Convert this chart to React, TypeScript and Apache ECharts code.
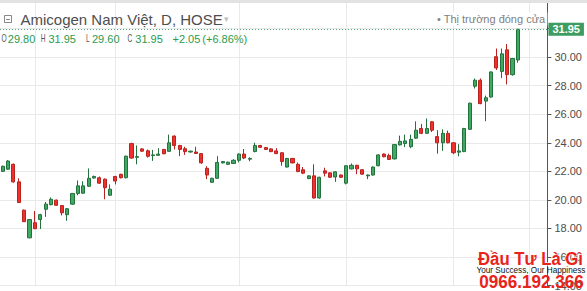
import React, { useEffect, useRef } from 'react';
import * as echarts from 'echarts';

const opens = [
  22.00, 22.15, 22.49, 21.26, 19.28, 17.34, 18.40, 18.62, 19.34, 19.66,
  19.98, 19.60, 18.96, 19.70, 20.45, 20.47, 20.95, 21.53, 21.55, 21.45,
  20.32, 21.64, 21.79, 21.55, 23.94, 22.98, 23.57, 23.44, 23.10, 23.12,
  23.53, 23.40, 24.47, 23.81, 23.58, 23.35, 23.35, 23.24, 22.21, 21.23,
  21.51, 22.59, 22.49, 22.55, 22.77, 23.21, 22.85, 23.38, 23.81, 23.66,
  23.57, 23.43, 23.30, 22.30, 22.90, 22.49, 22.11, 21.49, 21.68, 20.13,
  22.03, 21.89, 21.60, 21.74, 21.17, 22.17, 22.42, 22.11, 21.68, 21.74,
  22.39, 23.21, 23.11, 22.87, 23.85, 23.95, 23.72, 24.32, 25.00, 24.66,
  25.47, 24.43, 24.00, 24.66, 24.00, 23.34, 23.38, 24.94, 27.96, 28.38,
  26.92, 27.20, 30.03, 29.00, 30.51, 28.77, 29.80,
];
const closes = [
  22.35, 22.72, 21.26, 19.81, 18.47, 18.62, 17.98, 18.96, 19.70, 20.04,
  19.62, 19.09, 19.38, 20.45, 20.98, 20.98, 21.51, 21.64, 21.17, 20.85,
  20.75, 21.32, 21.55, 23.06, 22.93, 23.03, 23.41, 23.05, 23.15, 23.21,
  23.23, 24.00, 23.81, 23.53, 23.38, 23.41, 23.25, 22.59, 21.74, 21.51,
  22.62, 22.68, 22.64, 22.77, 23.21, 22.93, 22.90, 23.81, 23.68, 23.53,
  23.38, 23.24, 22.68, 22.90, 22.59, 21.98, 21.87, 21.68, 20.13, 21.58,
  21.87, 21.58, 21.96, 21.58, 22.39, 22.42, 22.17, 21.80, 21.74, 22.30,
  23.15, 23.02, 22.83, 23.87, 24.10, 24.13, 24.24, 24.88, 24.66, 25.00,
  24.88, 24.00, 24.66, 24.00, 23.30, 23.43, 25.00, 26.77, 28.38, 26.74,
  27.15, 28.96, 29.24, 30.23, 28.77, 29.90, 31.95,
];
const lows = [
  21.95, 22.10, 21.20, 19.78, 18.45, 17.30, 17.95, 17.96, 18.81, 19.62,
  19.58, 18.91, 18.53, 19.66, 20.32, 20.43, 20.90, 21.48, 21.12, 20.04,
  20.28, 21.08, 21.50, 21.50, 22.88, 22.49, 23.36, 22.96, 22.73, 23.08,
  23.19, 23.36, 23.53, 23.06, 23.15, 23.31, 23.21, 22.53, 21.45, 21.19,
  21.47, 22.55, 22.45, 22.51, 22.62, 22.85, 22.70, 23.34, 23.64, 23.49,
  23.34, 23.20, 22.39, 22.26, 22.55, 21.94, 21.80, 21.45, 20.09, 20.09,
  21.64, 21.54, 21.26, 21.54, 21.08, 22.13, 21.80, 21.76, 21.45, 21.70,
  22.35, 22.98, 22.79, 22.83, 23.81, 23.70, 23.62, 24.28, 24.60, 24.62,
  24.75, 23.24, 23.43, 23.96, 23.20, 23.05, 23.34, 24.90, 27.80, 26.70,
  25.51, 27.16, 29.10, 28.53, 28.09, 28.70, 29.60,
];
const highs = [
  22.40, 22.78, 22.55, 21.51, 19.32, 18.65, 19.22, 19.02, 19.85, 20.17,
  20.02, 19.64, 19.42, 20.48, 21.36, 21.30, 22.20, 21.70, 21.64, 21.50,
  21.08, 21.68, 21.83, 23.10, 24.00, 23.81, 23.62, 23.53, 23.50, 23.62,
  23.57, 24.57, 24.51, 23.85, 23.72, 23.45, 23.72, 23.28, 22.36, 21.55,
  23.06, 22.72, 22.68, 22.85, 23.25, 23.56, 22.98, 24.00, 23.85, 23.70,
  23.61, 23.62, 23.34, 22.94, 22.94, 22.62, 22.30, 21.72, 22.49, 21.62,
  22.25, 21.93, 22.00, 21.78, 22.43, 22.55, 22.46, 22.15, 21.78, 22.34,
  23.19, 23.25, 23.24, 23.91, 24.50, 24.57, 24.57, 25.50, 25.32, 25.70,
  25.51, 24.88, 24.94, 24.85, 24.04, 23.90, 25.04, 26.81, 28.50, 28.50,
  27.30, 29.00, 30.60, 30.60, 30.92, 29.94, 31.95,
];

// empty future bar slots to the right of the last candle
const futureSlots = 5;
// bars at which the time scale draws its vertical grid lines
const timeGridBars = [6, 21, 44, 64, 84, 98];

const yMin = 14;
const yMax = 34;
const yStep = 2;

const title = 'Amicogen Nam Việt, D, HOSE';
const statusText = 'Thị trường đóng cửa';
const brandName = 'Đầu Tư Là Gì';
const brandSlogan = 'Your Success, Our Happiness';
const brandPhone = '0966.192.366';

const UP = '#3fa861';
const UP_BORDER = '#24703f';
const DOWN = '#f0302c';
const DOWN_BORDER = '#b8231f';
const VALUE_GREEN = '#2b9a4d';
const GRID = '#e9e9e9';
const BRAND_RED = '#e8231b';

export default function App() {
  const ref = useRef<HTMLDivElement>(null);

  useEffect(() => {
    if (!ref.current) return;
    const chart = echarts.init(ref.current, null, { renderer: 'svg' });
    const n = opens.length;
    const categories = Array.from({ length: n + futureSlots }, (_, i) => String(i));
    const candles = opens.map((o, i) => [o, closes[i], lows[i], highs[i]]);
    const last = n - 1;
    const lastClose = closes[last];
    const change = lastClose - closes[last - 1];
    const pct = (change / closes[last - 1]) * 100;
    const sign = change >= 0 ? '+' : '';

    const font = "'Liberation Sans', Arial, sans-serif";

    const ohlcParts: [string, number, boolean][] = [
      ['O', 1.5, false], [opens[last].toFixed(2), 7.8, true],
      ['H', 40.8, false], [highs[last].toFixed(2), 48.4, true],
      ['L', 86, false], [lows[last].toFixed(2), 92, true],
      ['C', 127.4, false], [lastClose.toFixed(2), 135.3, true],
      [`${sign}${change.toFixed(2)}`, 172.5, true],
      [`(${sign}${pct.toFixed(2)}%)`, 202.3, true],
    ];

    chart.setOption({
      animation: false,
      backgroundColor: '#ffffff',
      grid: { left: -3.4, width: 550.8, top: -18.4, height: 353.4 },
      xAxis: {
        type: 'category',
        data: categories,
        boundaryGap: true,
        axisLine: { show: false },
        axisTick: { show: false },
        axisLabel: { show: false },
        splitLine: { show: false },
      },
      yAxis: {
        type: 'value',
        position: 'right',
        min: yMin,
        max: yMax,
        interval: yStep,
        axisLine: { show: true, lineStyle: { color: '#555', width: 1 } },
        axisTick: { show: true, length: 4, lineStyle: { color: '#555' } },
        axisLabel: {
          margin: 7,
          color: '#4d4d4d',
          fontSize: 11,
          fontFamily: font,
          formatter: (v: number) => (v >= 32 ? '' : v.toFixed(2)),
        },
        splitLine: { show: true, lineStyle: { color: GRID, width: 1 } },
      },
      series: [
        {
          type: 'custom',
          silent: true,
          z: 1,
          data: timeGridBars.map((b) => [b, 20]),
          encode: { x: 0, y: 1 },
          renderItem: (params: any, api: any) => {
            const x = Math.round(api.coord([api.value(0), 20])[0]) + 0.5;
            const cs = params.coordSys;
            return {
              type: 'line',
              shape: { x1: x, y1: cs.y, x2: x, y2: cs.y + cs.height },
              style: { stroke: GRID, lineWidth: 1 },
            };
          },
        },
        {
          type: 'candlestick',
          z: 3,
          barWidth: 3.6,
          data: candles,
          itemStyle: {
            color: UP,
            color0: DOWN,
            borderColor: UP_BORDER,
            borderColor0: DOWN_BORDER,
            borderWidth: 1,
          },
          markLine: {
            silent: true,
            symbol: 'none',
            animation: false,
            lineStyle: { type: [1, 2], color: '#4fa578', width: 1 },
            label: {
              position: 'end',
              distance: 1,
              formatter: lastClose.toFixed(2),
              backgroundColor: '#3d9d60',
              color: '#ffffff',
              fontSize: 11,
              fontWeight: 'bold',
              fontFamily: font,
              padding: [1, 4, 1, 4],
            },
            data: [{ yAxis: lastClose }],
          },
        },
      ],
      graphic: [
        { type: 'rect', z: 20, shape: { x: 0, y: 0, width: 587, height: 3 }, style: { fill: '#e2e2e2' } },
        { type: 'rect', z: 20, shape: { x: 4.5, y: 15.5, width: 7, height: 7 }, style: { fill: 'none', stroke: '#888', lineWidth: 1 } },
        { type: 'line', z: 20, shape: { x1: 6, y1: 19.5, x2: 10, y2: 19.5 }, style: { stroke: '#888', lineWidth: 1 } },
        {
          type: 'text', z: 20, x: 20.5, y: 19,
          style: { text: title, fontSize: 15, fontFamily: font, fill: '#4e4e4e', verticalAlign: 'middle' },
        },
        {
          type: 'text', z: 20, x: 224, y: 18.5,
          style: { text: '▾', fontSize: 9, fontFamily: font, fill: '#c0c0c0', verticalAlign: 'middle' },
        },
        ...ohlcParts.map(([t, x, isVal]) => ({
          type: 'text', z: 20, x, y: 38.5,
          scaleX: isVal ? 1 : 0.6,
          style: { text: t, fontSize: 11, fontFamily: font, fill: isVal ? VALUE_GREEN : '#555', verticalAlign: 'middle' },
        })),
        {
          type: 'text', z: 20, x: 436, y: 19,
          style: {
            text: '• ' + statusText, fontSize: 11, fontFamily: font, fill: '#808080',
            verticalAlign: 'middle', backgroundColor: '#ffffff', padding: [1, 2, 1, 1],
          },
        },
        {
          type: 'text', z: 20, x: 530.5, y: 258.5, scaleX: 0.88,
          style: {
            text: brandName, fontSize: 19, fontWeight: 'bold', fontFamily: font, fill: BRAND_RED,
            align: 'center', verticalAlign: 'middle', stroke: '#ffffff', lineWidth: 1,
          },
        },
        {
          type: 'text', z: 20, x: 531, y: 270.5,
          style: { text: brandSlogan, fontSize: 8.2, fontFamily: font, fill: '#111', align: 'center', verticalAlign: 'middle' },
        },
        {
          type: 'text', z: 20, x: 531.5, y: 281.5, scaleX: 0.9,
          style: {
            text: brandPhone, fontSize: 19, fontWeight: 'bold', fontFamily: font, fill: BRAND_RED,
            align: 'center', verticalAlign: 'middle',
          },
        },
      ],
    });

    return () => chart.dispose();
  }, []);

  return (
    <div
      ref={ref}
      style={{ position: 'fixed', left: 0, top: 0, width: 587, height: 291, background: '#fff' }}
    />
  );
}
